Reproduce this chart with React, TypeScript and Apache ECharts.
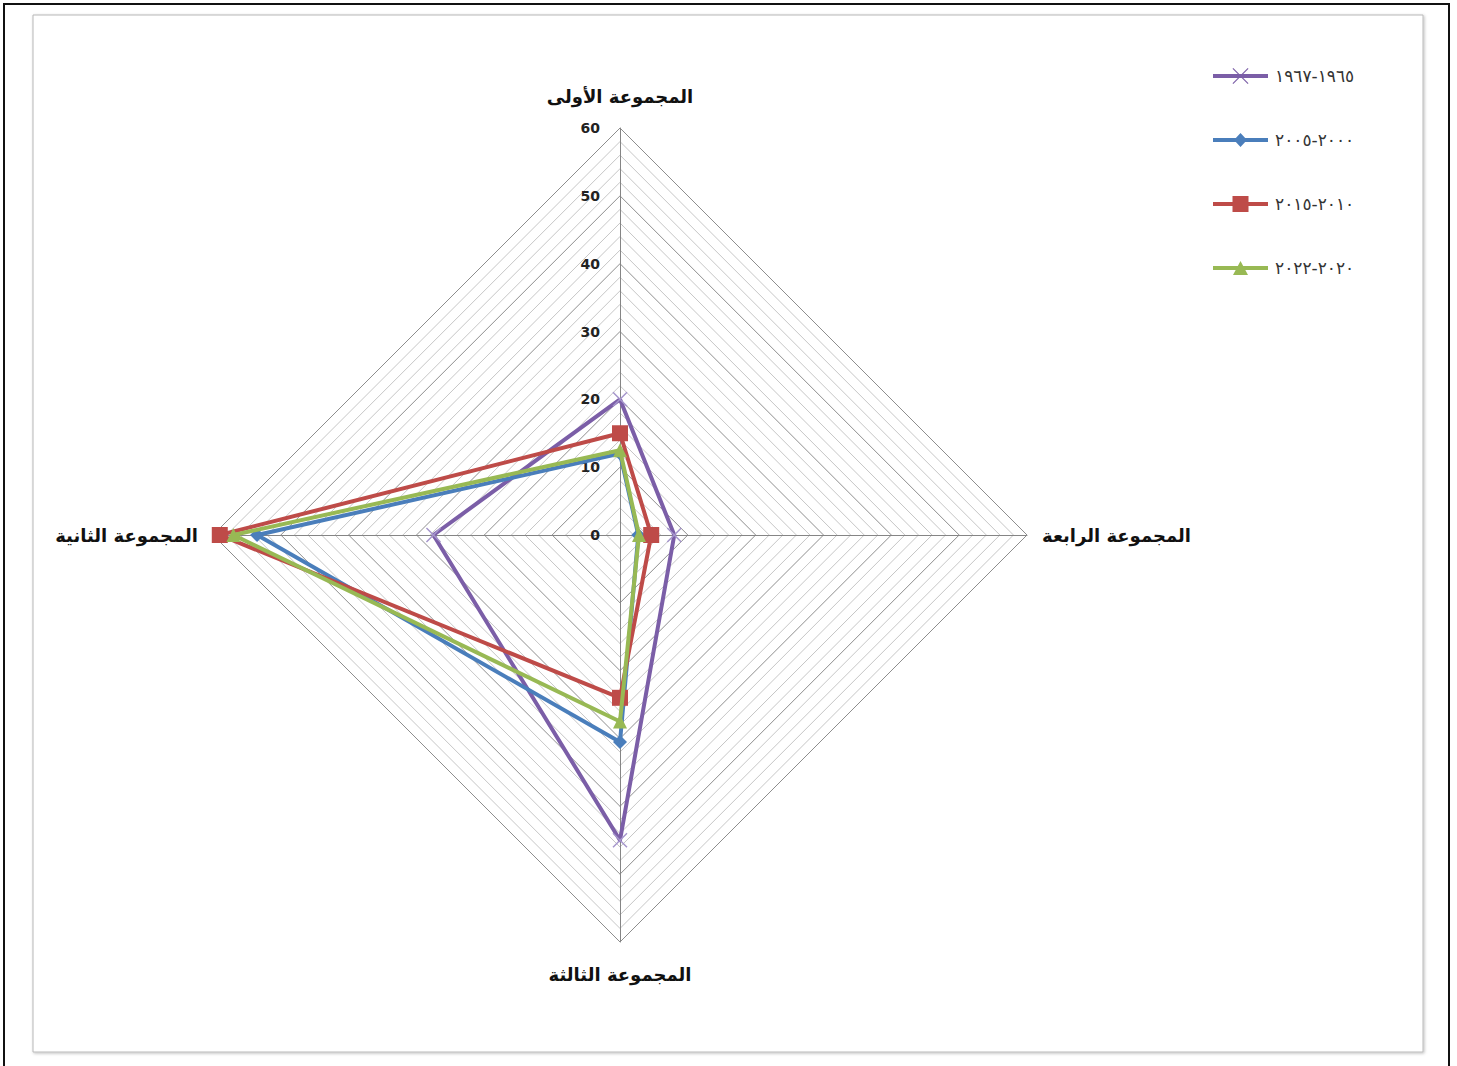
import React, { useEffect, useRef } from "react";
import * as echarts from "echarts";

// Radar axes, in counter-clockwise order starting from the top
const groups = ["المجموعة الأولى", "المجموعة الثانية", "المجموعة الثالثة", "المجموعة الرابعة"];
const axisMax = 60;

// Period names (logical order; they render right-to-left as number runs)
const periods = ["١٩٦٥-١٩٦٧", "٢٠٠٠-٢٠٠٥", "٢٠١٠-٢٠١٥", "٢٠٢٠-٢٠٢٢"];

// Values per group, in the same order as `groups`
const values1965 = [20, 27.5, 45, 8];
const values2000 = [12, 53.5, 30.5, 2.7];
const values2010 = [15, 59, 24, 4.6];
const values2020 = [12.5, 57, 27.5, 2.8];

const seriesValues = [values1965, values2000, values2010, values2020];
const colors = ["#7b5ea7", "#4a7ebb", "#be4b48", "#98b954"];

const FONT = "DejaVu Sans, sans-serif";

// Legend icons: a thick line with the series marker in the middle (55 x 20 box)
const LINE = "M0,8 L55,8 L55,12 L0,12 Z";
const legendIcons = [
  "path://" + LINE + " M20.3,2 L35.5,17.2 L34.7,18 L19.5,2.8 Z M34.7,2 L35.5,2.8 L20.3,18 L19.5,17.2 Z",
  "path://" + LINE + " M27.5,3 L34,10 L27.5,17 L21,10 Z",
  "path://" + LINE + " M19.5,2 L35.5,2 L35.5,18 L19.5,18 Z",
  "path://" + LINE + " M27.5,3 L35,17 L20,17 Z",
];

const markerSymbols = ["path://M0,0 L10,10 M10,0 L0,10", "diamond", "rect", "triangle"];
const markerSizes = [14, 14, 16, 14];

export default function App() {
  const ref = useRef<HTMLDivElement>(null);

  useEffect(() => {
    if (!ref.current) return;
    const chart = echarts.init(ref.current, undefined, { renderer: "svg" });

    const series = seriesValues.map((vals, i) => ({
      type: "radar",
      name: periods[i],
      z: 2 + i,
      symbol: markerSymbols[i],
      symbolSize: markerSizes[i],
      lineStyle: { color: colors[i], width: 4 },
      itemStyle:
        i === 0
          ? { color: "transparent", borderColor: "#a696cc", borderWidth: 1.5 }
          : { color: colors[i], borderWidth: 0 },
      data: [{ name: periods[i], value: vals }],
    }));

    chart.setOption({
      animation: false,
      backgroundColor: "#ffffff",
      graphic: [
        {
          type: "rect",
          shape: { x: 4, y: 4, width: 1445, height: 1075 },
          style: { fill: "none", stroke: "#111", lineWidth: 2 },
          silent: true,
          z: -10,
        },
        {
          type: "rect",
          shape: { x: 33, y: 15, width: 1390, height: 1037 },
          style: {
            fill: "#fff",
            stroke: "#b8b8b8",
            lineWidth: 1,
            shadowBlur: 3,
            shadowColor: "rgba(0,0,0,0.25)",
            shadowOffsetX: 1,
            shadowOffsetY: 1,
          },
          silent: true,
          z: -9,
        },
      ],
      legend: {
        orient: "vertical",
        left: 1213,
        top: 66,
        padding: 0,
        itemWidth: 55,
        itemHeight: 20,
        itemGap: 44,
        selectedMode: false,
        textStyle: {
          fontFamily: FONT,
          fontSize: 17,
          color: "#333",
          padding: [0, 0, 0, 2],
          lineHeight: 20,
        },
        itemStyle: { borderWidth: 0 },
        data: periods.map((p, i) => ({
          name: p,
          icon: legendIcons[i],
          itemStyle: { color: colors[i], borderWidth: 0 },
        })),
      },
      radar: {
        center: [620, 535],
        radius: 407,
        startAngle: 90,
        shape: "polygon",
        splitNumber: 30,
        nameGap: 15,
        axisName: {
          color: "#111",
          fontSize: 18,
          fontWeight: "bold",
          fontFamily: FONT,
          lineHeight: 34,
        },
        splitArea: { show: false },
        splitLine: {
          lineStyle: {
            color: ["#8e8e8e", "#c6c6c6", "#c6c6c6", "#c6c6c6", "#c6c6c6"],
            width: 1,
          },
        },
        axisLine: { lineStyle: { color: "#858585", width: 1 } },
        axisTick: { show: false },
        axisLabel: {
          show: false,
          color: "#222",
          fontSize: 14,
          fontWeight: "bold",
          fontFamily: FONT,
          margin: 20,
          formatter: (v: number) => (v % 10 === 0 ? String(v) : ""),
        },
        indicator: groups.map((g, i) => ({
          name: g,
          min: 0,
          max: axisMax,
          axisLabel: { show: i === 0 },
        })),
      },
      series,
    });

    return () => chart.dispose();
  }, []);

  return (
    <div
      ref={ref}
      style={{ position: "absolute", left: 0, top: 0, width: 1457, height: 1066 }}
    />
  );
}
